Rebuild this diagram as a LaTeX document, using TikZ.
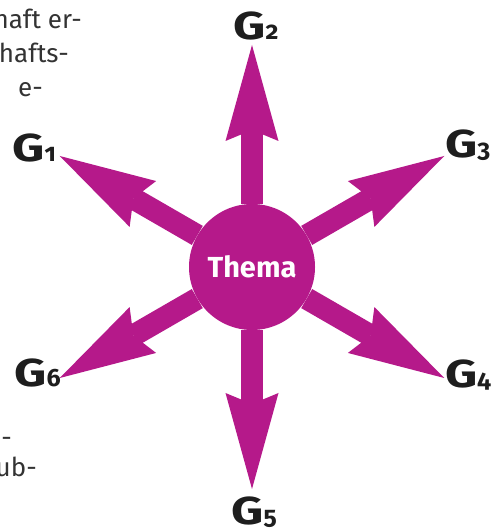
\documentclass[tikz,border=0pt]{standalone}
\usepackage{graphicx}
\usepackage{fontspec}
\setmainfont{Fira Sans}
\newfontfamily\glfont[Numbers=OldStyle]{Fira Sans}
\usetikzlibrary{arrows.meta}
\definecolor{mag}{HTML}{B5198A}
\definecolor{ink}{HTML}{1E1E1E}
\definecolor{bodytxt}{HTML}{333333}
\newcommand{\glet}{\scalebox{1.28}[1]{G}}
\newcommand{\gidx}[1]{{\fontsize{25bp}{25bp}\selectfont #1}}

\begin{document}
\begin{tikzpicture}[
    x=1bp, y=1bp,
    glab/.style={font=\glfont\bfseries\fontsize{39bp}{39bp}\selectfont, text=ink, inner sep=0pt},
    btxt/.style={font=\fontsize{26bp}{30bp}\selectfont, text=bodytxt, inner sep=0pt},
    hub/.style={circle, fill=mag, minimum size=126bp, inner sep=0pt, text=white,
                font=\bfseries\fontsize{29bp}{29bp}\selectfont},
    pfeil/.style={draw=mag, line width=22bp,
                  -{Stealth[length=96bp, width=53bp, inset=11bp, line width=0pt]}},
]
\useasboundingbox (0,0) rectangle (492,529);
\clip (0,0) rectangle (492,529);

% ================================================ text running round the figure
\node[btxt, anchor=base east] (r1) at (82,500) {haft er-};
\node[btxt, anchor=base east] (r2) at (69,466) {hafts-};
\node[btxt, anchor=base east] (r3) at (43,432) {e-};
\node[btxt, anchor=base east] (r4) at (12,82) {i-};
\node[btxt, anchor=base east] (r5) at (37,52) {ub-};

% ================================================================= the star
\node[hub] (thema) at (252,262) {Thema};

\foreach \n/\a in {1/150, 2/90, 3/30, 4/-30, 5/-90, 6/-150} {
  \coordinate (p\n) at ([shift={(\a:222)}]thema.center);
  \draw[pfeil] (thema) -- (p\n);
}

% the six groups
\node[glab, anchor=base east] (g1) at (56,367)  {\glet\gidx{1}};
\node[glab, anchor=base]      (g2) at (256,489) {\glet\gidx{2}};
\node[glab, anchor=base west] (g3) at (445,371) {\glet\gidx{3}};
\node[glab, anchor=base west] (g4) at (445,141) {\glet\gidx{4}};
\node[glab, anchor=base]      (g5) at (254,4)   {\glet\gidx{5}};
\node[glab, anchor=base east] (g6) at (61,142)  {\glet\gidx{6}};

\end{tikzpicture}
\end{document}
